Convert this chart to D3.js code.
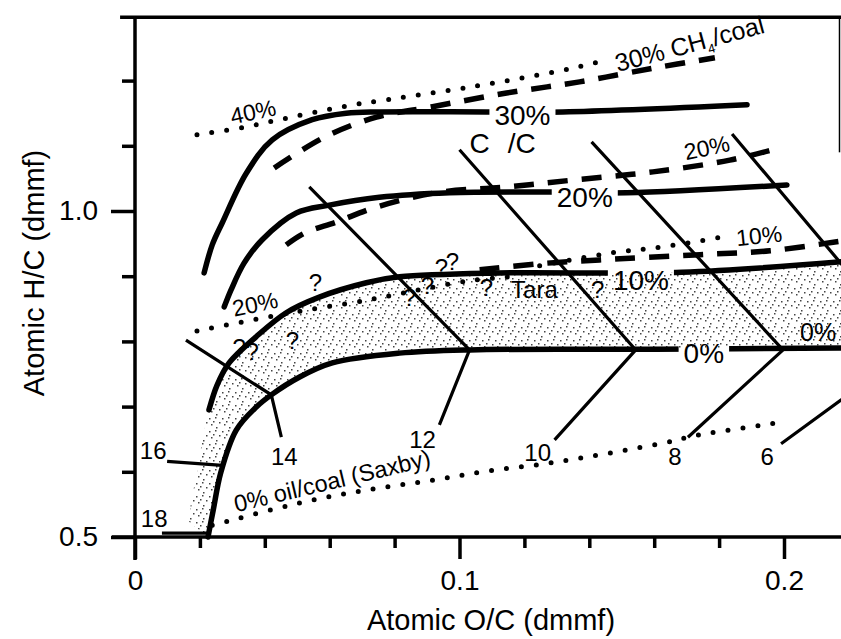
<!DOCTYPE html>
<html><head><meta charset="utf-8">
<script src="https://cdn.jsdelivr.net/npm/d3@7"></script>
<style>
body{margin:0;background:#fff}
svg{display:block;font-family:"Liberation Sans",Arial,Helvetica,sans-serif}
</style></head><body>
<svg id="chart" width="841" height="639"></svg>
<script>
// ---------- data (Atomic O/C, Atomic H/C) ----------
const xTicksMajor = [0, 0.1, 0.2];
const xTicksMinor = [0.02, 0.04, 0.06, 0.08, 0.12, 0.14, 0.16, 0.18];
const yTicksMajor = [0.5, 1.0];
const yTicksMinor = [0.6, 0.7, 0.8, 0.9, 1.1, 1.2];

// solid curves (C15+/C yield)
const solid0  = [[0.0225,0.5],[0.0241,0.541],[0.0265,0.600],[0.0312,0.664],[0.0373,0.699],[0.0420,0.718],[0.0506,0.745],[0.0608,0.767],[0.0815,0.782],[0.1031,0.787],[0.16,0.788],[0.22,0.790]];
const solid10 = [[0.0228,0.695],[0.0253,0.733],[0.0290,0.767],[0.0373,0.807],[0.0466,0.844],[0.0568,0.868],[0.0713,0.890],[0.0815,0.899],[0.1123,0.905],[0.1685,0.906],[0.22,0.923]];
const solid20 = [[0.0275,0.853],[0.0296,0.879],[0.0336,0.920],[0.0392,0.956],[0.0497,0.997],[0.0599,1.009],[0.0753,1.021],[0.0969,1.028],[0.1278,1.029],[0.1515,1.028],[0.2009,1.040]];
const solid30 = [[0.0213,0.905],[0.0238,0.948],[0.0269,0.982],[0.0343,1.058],[0.0423,1.109],[0.0546,1.140],[0.0651,1.150],[0.0753,1.152],[0.1083,1.152],[0.1318,1.152],[0.1886,1.163]];

// dashed curves (CH4/coal)
const dashed30 = [[0.0429,1.066],[0.0583,1.113],[0.0744,1.144],[0.0917,1.160],[0.1145,1.181],[0.1370,1.198],[0.1596,1.219],[0.1787,1.235]];
const dashed20 = [[0.0466,0.948],[0.0522,0.966],[0.0620,0.983],[0.0744,1.006],[0.0929,1.028],[0.1145,1.037],[0.1361,1.048],[0.1596,1.060],[0.1833,1.078],[0.1988,1.097]];
const dashed10 = [[0.1062,0.910],[0.1269,0.920],[0.1432,0.925],[0.1741,0.933],[0.1957,0.939],[0.2176,0.954]];

// dotted curves (oil/coal)
const dotted40 = [[0.0191,1.117],[0.0343,1.129],[0.0444,1.140],[0.0651,1.161],[0.0753,1.169],[0.1031,1.190],[0.1340,1.218],[0.1438,1.230]];
const dotted20 = [[0.0191,0.816],[0.0404,0.837],[0.0528,0.848],[0.0713,0.863],[0.0815,0.873],[0.1031,0.893],[0.1185,0.900]];
const dotted10 = [[0.1247,0.916],[0.1472,0.936],[0.1627,0.945],[0.1809,0.960]];
const dottedSaxby = [[0.0238,0.518],[0.0506,0.552],[0.0713,0.572],[0.0917,0.587],[0.1071,0.600],[0.1299,0.615],[0.1627,0.644],[0.1732,0.656],[0.1994,0.676]];

// iso-lines with their labels
const isoNames = ["6","8","10","12","14","16","18"];
const isoLines = [
  [[0.1840,1.118],[0.2395,0.790],[0.1991,0.643]],
  [[0.1407,1.106],[0.1997,0.787],[0.1704,0.653]],
  [[0.1000,1.094],[0.1543,0.787],[0.1293,0.649]],
  [[0.0537,1.037],[0.1031,0.787],[0.0938,0.672]],
  [[0.0157,0.802],[0.0420,0.718],[0.0451,0.653]],
  [[0.0099,0.616],[0.0269,0.610]],
  [[0.0083,0.506],[0.0228,0.506]]
];
const isoLabelPos = [[0.1948,0.623],[0.1664,0.623],[0.1241,0.630],[0.0886,0.650],[0.0460,0.623],[0.0056,0.633],[0.0059,0.529]];

// stippled lobe (left edge of the shaded band)
const stippleLobe = [[0.0167,0.523],[0.0173,0.557],[0.0194,0.603],[0.0207,0.649]];

// question marks
const questionPts = [[0.0556,0.890],[0.0321,0.791],[0.0361,0.784],[0.0485,0.802],[0.0846,0.868],[0.0901,0.885],[0.0944,0.914],[0.0978,0.922],[0.1083,0.882],[0.1426,0.879]];

// ---------- drawing ----------
const x = d3.scaleLinear().domain([0, 0.2]).range([135, 784]);
const y = d3.scaleLinear().domain([0.5, 1.0]).range([537, 211]);
const yTop = 1.297;
const svg = d3.select("#chart");
const defs = svg.append("defs");

const pat = defs.append("pattern").attr("id","stip").attr("width",13).attr("height",13).attr("patternUnits","userSpaceOnUse");
[[1,2],[7,1],[11,6],[3,8],[8,11],[5,5]].forEach(([a,b]) =>
  pat.append("rect").attr("x",a).attr("y",b).attr("width",1.5).attr("height",1.5).attr("fill","#444"));

const mask = defs.append("mask").attr("id","gaps").attr("maskUnits","userSpaceOnUse")
  .attr("x",0).attr("y",0).attr("width",841).attr("height",639);
mask.append("rect").attr("width",841).attr("height",639).attr("fill","#fff");

const smooth = d3.line().x(d=>x(d[0])).y(d=>y(d[1])).curve(d3.curveCatmullRom.alpha(0.5));
const straight = d3.line().x(d=>x(d[0])).y(d=>y(d[1]));

// stipple band
const band = smooth(solid10) + smooth(solid0.slice().reverse()).replace(/^M/,"L") + straight(stippleLobe).replace(/^M/,"L") + "Z";
svg.append("path").attr("d", band).attr("fill","url(#stip)");

// frame / axes lines
const frame = svg.append("g").attr("stroke","#000").attr("fill","none");
frame.append("line").attr("x1", x(-0.0071)).attr("x2", 841).attr("y1", y(0.5)).attr("y2", y(0.5)).attr("stroke-width",3.5);
frame.append("line").attr("x1", x(0)).attr("x2", x(0)).attr("y1", y(yTop)).attr("y2", y(0.4647)).attr("stroke-width",3.5);
frame.append("line").attr("x1", x(-0.0046)).attr("x2", 841).attr("y1", y(yTop)).attr("y2", y(yTop)).attr("stroke-width",3.5);
frame.append("line").attr("x1", 839.5).attr("x2", 839.5).attr("y1", y(yTop)).attr("y2", y(1.09)).attr("stroke-width",1.5);

function styleAxis(g, fs){
  g.select(".domain").remove();
  g.selectAll(".tick line").attr("stroke","#000").attr("stroke-width",3.5);
  g.selectAll(".tick text").attr("fill","#000").style("font-size", fs+"px").style("font-family",'"Liberation Sans",Arial,sans-serif');
}
const fmt = d => d === 0 ? "0" : d3.format(".1f")(d);
const gxM = svg.append("g").attr("transform",`translate(0,${y(0.5)})`)
  .call(d3.axisBottom(x).tickValues(xTicksMajor).tickSize(22).tickPadding(11).tickFormat(fmt));
styleAxis(gxM, 28);
const gxm = svg.append("g").attr("transform",`translate(0,${y(0.5)})`)
  .call(d3.axisBottom(x).tickValues(xTicksMinor).tickSize(11).tickFormat(""));
styleAxis(gxm, 28);
const gyM = svg.append("g").attr("transform",`translate(${x(0)},0)`)
  .call(d3.axisLeft(y).tickValues(yTicksMajor).tickSize(24).tickPadding(13).tickFormat(fmt));
styleAxis(gyM, 28);
const gym = svg.append("g").attr("transform",`translate(${x(0)},0)`)
  .call(d3.axisLeft(y).tickValues(yTicksMinor).tickSize(13).tickFormat(""));
styleAxis(gym, 28);

// axis titles
svg.append("text").attr("x", 491).attr("y", 630).attr("text-anchor","middle")
  .style("font-size","29px").text("Atomic O/C (dmmf)");
svg.append("text").attr("transform","translate(44,273) rotate(-90)").attr("text-anchor","middle")
  .style("font-size","29px").text("Atomic H/C (dmmf)");

// curves
const lines = svg.append("g").attr("fill","none").attr("stroke","#000");
const solids = lines.append("g").attr("mask","url(#gaps)");
[solid0, solid10, solid20, solid30].forEach(s =>
  solids.append("path").attr("d", smooth(s)).attr("stroke-width",5.5).attr("stroke-linecap","round"));
[dashed30, dashed20, dashed10].forEach(s =>
  lines.append("path").attr("d", smooth(s)).attr("stroke-width",5.5).attr("stroke-dasharray","20 14"));
[dotted40, dotted20, dotted10, dottedSaxby].forEach(s =>
  lines.append("path").attr("d", smooth(s)).attr("stroke-width",5).attr("stroke-linecap","round").attr("stroke-dasharray","0 15"));
isoLines.forEach(s =>
  lines.append("path").attr("d", straight(s)).attr("stroke-width",3.2));

// labels
const labels = svg.append("g").attr("fill","#000");
function label(txt, xv, yv, fs, rot, anchor){
  const t = labels.append("text")
    .attr("transform", `translate(${x(xv)},${y(yv)}) rotate(${rot||0})`)
    .attr("text-anchor", anchor || "middle").attr("dominant-baseline","central")
    .style("font-size", fs+"px").text(txt);
  return t;
}
isoNames.forEach((n,i) => label(n, isoLabelPos[i][0], isoLabelPos[i][1], 24));
questionPts.forEach(p => label("?", p[0], p[1], 24));

const gapLabels = [
  label("30%", 0.1194, 1.147, 28),
  label("20%", 0.1386, 1.021, 28),
  label("10%", 0.1559, 0.894, 28),
  label("0%", 0.1753, 0.782, 28)
];
label("0%", 0.2105, 0.814, 25);
label("20%", 0.1762, 1.097, 23, -12);
label("10%", 0.1923, 0.962, 23, -6);
label("40%", 0.0364, 1.152, 23, -12);
label("20%", 0.0370, 0.857, 23, -12);
label("Tara", 0.1231, 0.879, 24);

const cc = labels.append("text").attr("x", x(0.1133)).attr("y", y(1.104))
  .attr("text-anchor","middle").attr("dominant-baseline","central").style("font-size","28px");
cc.append("tspan").text("C");
cc.append("tspan").attr("dx", 18).text("/C");

const ch = labels.append("text").attr("transform", `translate(${x(0.1488)},${y(1.213)}) rotate(-15)`)
  .style("font-size","25px");
ch.append("tspan").text("30% CH");
ch.append("tspan").attr("dy",6).style("font-size","13px").text("4");
ch.append("tspan").attr("dy",-6).text("/coal");

labels.append("text").attr("transform", `translate(${x(0.0312)},${y(0.538)}) rotate(-13.5)`)
  .style("font-size","23.5px").text("0% oil/coal (Saxby)");

// cut gaps in solid lines behind their labels
gapLabels.forEach(t => {
  const b = t.node().getBBox();
  const tr = t.node().transform.baseVal.consolidate().matrix;
  mask.append("rect").attr("x", tr.e + b.x - 5).attr("y", tr.f + b.y).attr("width", b.width + 10).attr("height", b.height).attr("fill","#000");
});
</script>
</body></html>
